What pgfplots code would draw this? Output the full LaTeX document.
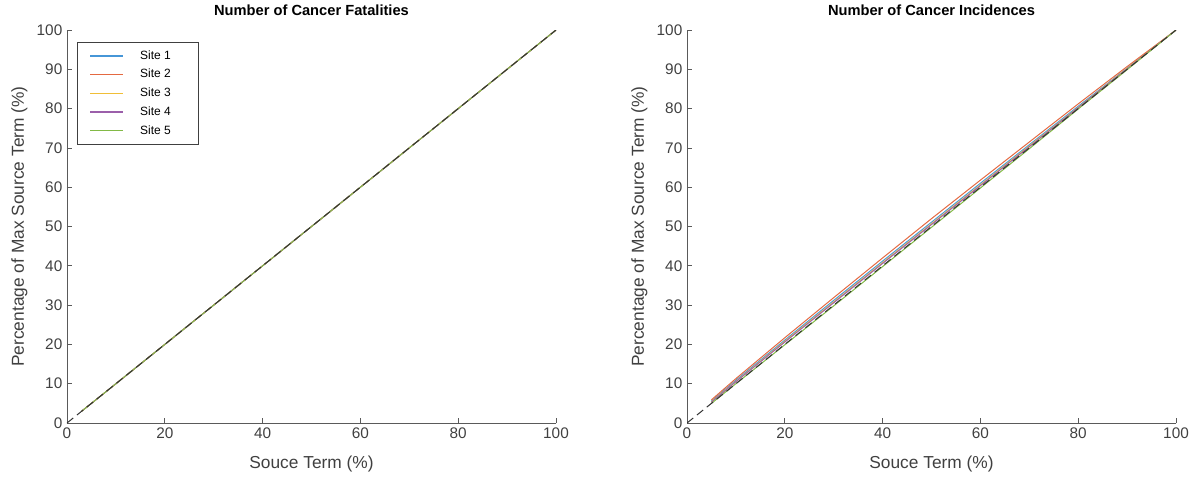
\documentclass[border=0pt]{standalone}
\usepackage{fontspec}
\setmainfont{Liberation Sans}
\usepackage{pgfplots}
\pgfplotsset{compat=1.18}

\definecolor{mblue}{RGB}{70,150,215}
\definecolor{mred}{RGB}{228,105,65}
\definecolor{myellow}{RGB}{240,190,55}
\definecolor{mpurple}{RGB}{155,95,170}
\definecolor{mgreen}{RGB}{130,185,70}
\definecolor{axgray}{RGB}{90,90,90}
\definecolor{txtgray}{RGB}{64,64,64}

\pgfplotsset{
  cancer/.style={
    scale only axis,
    width=366.75pt, height=294.75pt,
    xmin=0, xmax=100, ymin=0, ymax=100,
    xtick={0,20,...,100}, ytick={0,10,...,100},
    axis x line*=bottom, axis y line*=left,
    axis line style={axgray, line width=0.6pt},
    tick style={axgray, line width=0.6pt},
    major tick length=3.5pt,
    tick align=inside,
    /pgf/number format/assume math mode=true,
    ticklabel style={font=\fontsize{11.5}{13}\selectfont, text=txtgray},
    label style={font=\fontsize{13}{15}\selectfont, text=txtgray},
    xlabel={Souce Term (\%)},
    xlabel style={yshift=-6pt},
    ylabel={Percentage of Max Source Term (\%)},
    title style={font=\fontsize{11}{13}\selectfont\bfseries, at={(0.5,1)}, anchor=south, yshift=1pt},
    every axis plot/.append style={line width=0.75pt},
  },
  refline/.style={black!80, dash pattern=on 6pt off 3.5pt, line width=0.75pt},
}

\begin{document}
\begin{tikzpicture}
\useasboundingbox (-50.25pt,-39.75pt) rectangle (848.25pt,317.25pt);

\begin{axis}[cancer,
  at={(0pt,0pt)}, anchor=south west,
  title={Number of Cancer Fatalities},
  legend style={at={(0.0204,0.969)}, anchor=north west, draw=black!75, line width=0.6pt,
    font=\fontsize{9}{10}\selectfont, row sep=2pt, inner xsep=9pt, inner ysep=4pt,
    nodes={inner xsep=12pt}},
  legend image code/.code={\draw[#1, line width=1.1pt] (0pt,0pt) -- (25pt,0pt);},
]
\addplot[mblue]   coordinates {(3,3)(50,50)(100,100)};
\addlegendentry{Site 1}
\addplot[mred]    coordinates {(3,3)(50,50)(100,100)};
\addlegendentry{Site 2}
\addplot[myellow] coordinates {(3,3)(50,50)(100,100)};
\addlegendentry{Site 3}
\addplot[mpurple] coordinates {(3,3)(50,50)(100,100)};
\addlegendentry{Site 4}
\addplot[mgreen]  coordinates {(3,3)(50,50)(100,100)};
\addlegendentry{Site 5}
\addplot[refline, forget plot] coordinates {(0,0)(100,100)};
\end{axis}

\begin{axis}[cancer,
  at={(465pt,0pt)}, anchor=south west,
  title={Number of Cancer Incidences},
]
\addplot[mblue] coordinates {(5,5.6)(10,10.9)(20,21.1)(30,31.2)(40,41.2)(50,51.1)(60,61.0)(70,70.8)(80,80.6)(90,90.3)(100,100)};
\addplot[mred] coordinates {(5,5.9)(10,11.3)(20,21.7)(30,31.9)(40,42.0)(50,52.0)(60,61.8)(70,71.5)(80,81.2)(90,90.7)(100,100)};
\addplot[myellow] coordinates {(5,5.4)(10,10.6)(20,20.8)(30,30.8)(40,40.8)(50,50.7)(60,60.6)(70,70.5)(80,80.3)(90,90.2)(100,100)};
\addplot[mpurple] coordinates {(5,5.3)(10,10.5)(20,20.6)(30,30.6)(40,40.6)(50,50.5)(60,60.4)(70,70.3)(80,80.2)(90,90.1)(100,100)};
\addplot[mgreen] coordinates {(5,5.0)(10,10.0)(20,19.9)(30,29.8)(40,39.8)(50,49.8)(60,59.8)(70,69.8)(80,79.9)(90,89.9)(100,100)};
\addplot[refline] coordinates {(0,0)(100,100)};
\end{axis}
\end{tikzpicture}
\end{document}
